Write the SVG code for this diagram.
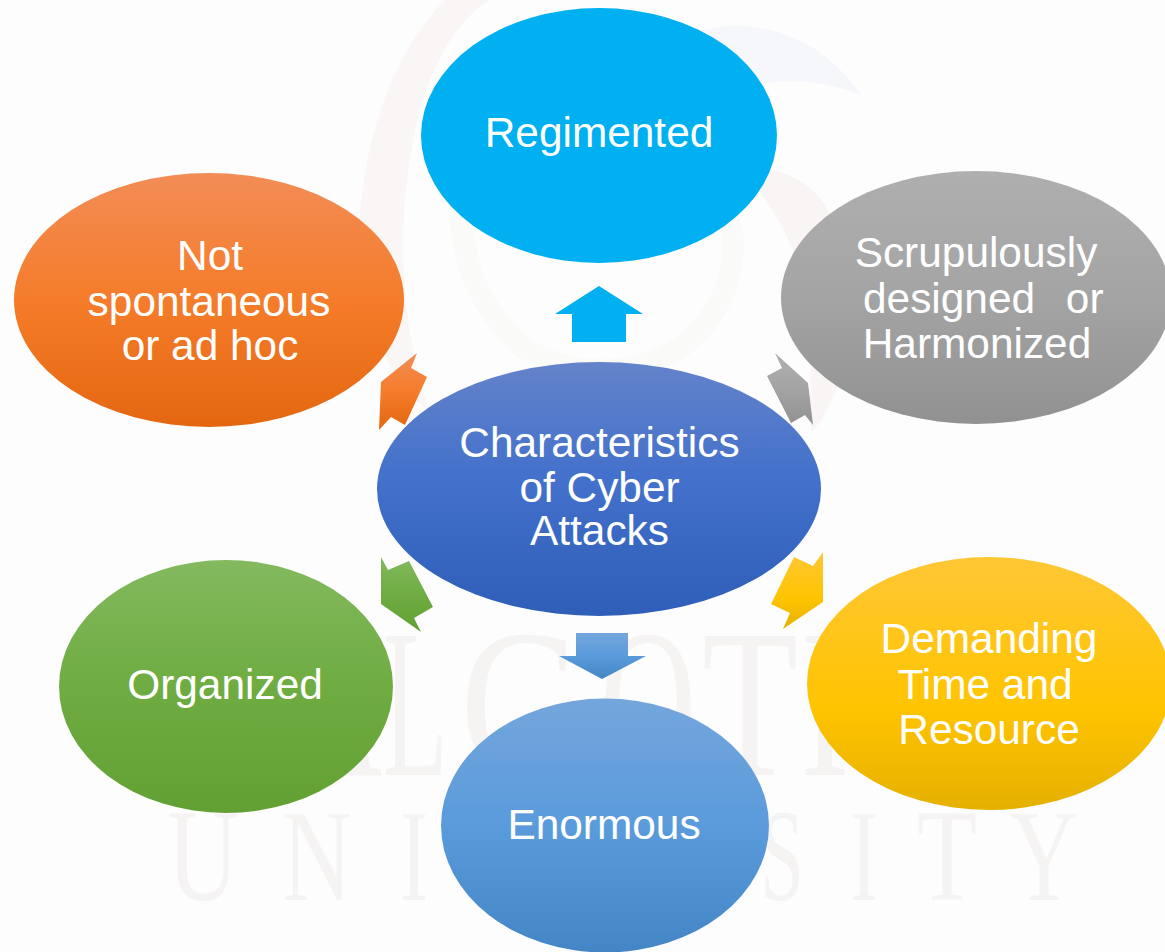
<svg xmlns="http://www.w3.org/2000/svg" width="1165" height="952" viewBox="0 0 1165 952">
<style>
.t{font-family:"Liberation Sans",Arial,sans-serif;font-size:42.4px;fill:#fff;text-anchor:middle}
.w{font-family:"Liberation Serif","Times New Roman",serif;fill:#f6f3f3}
.up{font-size:212px}
.lo{font-size:132px}
</style>
<defs>
<linearGradient id="orange" x1="0" y1="0" x2="0" y2="1"><stop offset="0" stop-color="#f28d56"/><stop offset=".5" stop-color="#f57c2a"/><stop offset="1" stop-color="#e46710"/></linearGradient>
<linearGradient id="gray" x1="0" y1="0" x2="0" y2="1"><stop offset="0" stop-color="#afafaf"/><stop offset=".5" stop-color="#a4a4a4"/><stop offset="1" stop-color="#919191"/></linearGradient>
<linearGradient id="yellow" x1="0" y1="0" x2="0" y2="1"><stop offset="0" stop-color="#ffc735"/><stop offset=".6" stop-color="#ffc400"/><stop offset="1" stop-color="#e5b000"/></linearGradient>
<linearGradient id="green" x1="0" y1="0" x2="0" y2="1"><stop offset="0" stop-color="#84b95f"/><stop offset=".45" stop-color="#70ae44"/><stop offset="1" stop-color="#62a033"/></linearGradient>
<linearGradient id="royal" x1="0" y1="0" x2="0" y2="1"><stop offset="0" stop-color="#6483ca"/><stop offset=".45" stop-color="#4371cb"/><stop offset="1" stop-color="#2e5eb8"/></linearGradient>
<linearGradient id="sky" x1="0" y1="0" x2="0" y2="1"><stop offset="0" stop-color="#74a6dc"/><stop offset=".5" stop-color="#5a9bdc"/><stop offset="1" stop-color="#4485c5"/></linearGradient>
</defs>
<rect width="1165" height="952" fill="#fdfdfd"/>
<g id="watermark">
<path d="M445,0C385,60 355,170 360,260C365,335 395,385 430,412C405,340 392,240 415,130C428,70 455,20 490,0Z" fill="#f9f6f5"/>
<path d="M680,38C730,15 810,20 862,96C820,78 780,78 742,88C725,65 705,50 680,38Z" fill="#f6f7fa"/>
<path d="M740,170C800,160 850,205 851,300C851,360 835,405 812,432C805,400 820,330 800,270C785,225 765,195 740,170Z" fill="#f9f5f5"/>
<path d="M480,115C450,190 450,280 520,345C580,385 660,375 700,330C735,290 740,240 725,210" fill="none" stroke="#fafaf9" stroke-width="22"/>
<text class="w up" x="290" y="775" textLength="92" lengthAdjust="spacingAndGlyphs">A</text>
<text class="w up" x="383" y="775" textLength="65" lengthAdjust="spacingAndGlyphs">L</text>
<text class="w up" x="460" y="775" textLength="125" lengthAdjust="spacingAndGlyphs">G</text>
<text class="w up" x="600" y="775" textLength="96" lengthAdjust="spacingAndGlyphs">O</text>
<text class="w up" x="702" y="775" textLength="96" lengthAdjust="spacingAndGlyphs">T</text>
<text class="w up" x="800" y="775" textLength="50" lengthAdjust="spacingAndGlyphs">I</text>
<text class="w lo" x="167" y="900" textLength="72" lengthAdjust="spacingAndGlyphs">U</text>
<text class="w lo" x="282" y="900" textLength="70" lengthAdjust="spacingAndGlyphs">N</text>
<text class="w lo" x="400" y="900" textLength="28" lengthAdjust="spacingAndGlyphs">I</text>
<text class="w lo" x="760" y="900" textLength="44" lengthAdjust="spacingAndGlyphs">S</text>
<text class="w lo" x="850" y="900" textLength="28" lengthAdjust="spacingAndGlyphs">I</text>
<text class="w lo" x="917" y="900" textLength="60" lengthAdjust="spacingAndGlyphs">T</text>
<text class="w lo" x="1010" y="900" textLength="68" lengthAdjust="spacingAndGlyphs">Y</text>
</g>
<g id="connectors">
<polygon points="599,286 643,314 626,314 626,342 572,342 572,314 555,314" fill="#00b0f0"/>
<polygon points="417,353 411,368 427,377 405,425 391,417 379,430 381,382" fill="url(#orange)"/>
<polygon points="775,353 782,368 767,376 791,423 805,415 813,425 808,383" fill="url(#gray)"/>
<polygon points="381,557 388,570 409,561 433,607 414,618 421,632 381,604" fill="url(#green)"/>
<polygon points="823,552 813,566 794,557 771,604 790,613 783,629 823,602" fill="url(#yellow)"/>
<polygon points="576,633 628,633 628,656 646,656 602,679 559,656 576,656" fill="url(#sky)"/>
</g>
<g id="node-regimented">
<ellipse cx="599" cy="135.500" rx="178" ry="127.500" fill="#00b0f0"/>
<text class="t" x="599" y="147">Regimented</text>
</g>
<g id="node-not-spontaneous">
<ellipse cx="209" cy="300" rx="195" ry="127" fill="url(#orange)"/>
<text class="t" x="210" y="270">Not</text>
<text class="t" x="209" y="316">spontaneous</text>
<text class="t" x="210" y="360">or ad hoc</text>
</g>
<g id="node-scrupulously">
<ellipse cx="976" cy="297.500" rx="195" ry="126.500" fill="url(#gray)"/>
<text class="t" x="976" y="267">Scrupulously</text>
<text class="t" x="863" y="313" style="text-anchor:start">designed <tspan dx="19">or</tspan></text>
<text class="t" x="977" y="358">Harmonized</text>
</g>
<g id="node-demanding">
<ellipse cx="989" cy="683.500" rx="182" ry="126.500" fill="url(#yellow)"/>
<text class="t" x="989" y="653">Demanding</text>
<text class="t" x="985" y="699">Time and</text>
<text class="t" x="989" y="744">Resource</text>
</g>
<g id="node-organized">
<ellipse cx="226" cy="686.500" rx="167" ry="126.500" fill="url(#green)"/>
<text class="t" x="225" y="699">Organized</text>
</g>
<g id="node-enormous">
<ellipse cx="605" cy="825.500" rx="164" ry="127" fill="url(#sky)"/>
<text class="t" x="604" y="839">Enormous</text>
</g>
<g id="node-center">
<ellipse cx="599" cy="489" rx="222" ry="127" fill="url(#royal)"/>
<text class="t" x="599.500" y="457">Characteristics</text>
<text class="t" x="599.500" y="502">of Cyber</text>
<text class="t" x="599.500" y="545">Attacks</text>
</g>
</svg>
